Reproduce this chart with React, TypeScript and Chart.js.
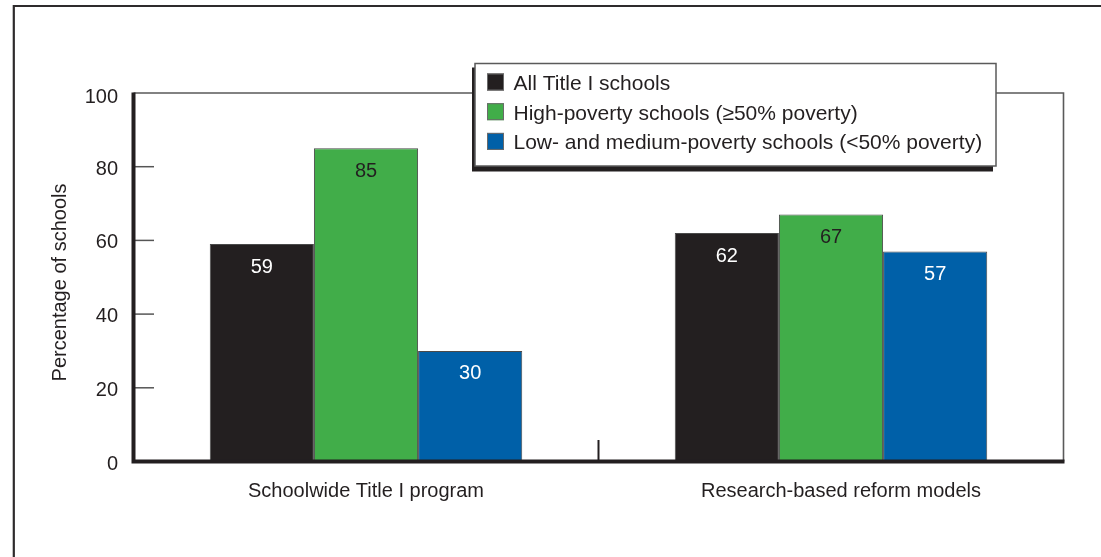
import React, { useEffect, useRef } from "react";
import { Chart, registerables } from "chart.js";

Chart.register(...registerables);

const categories = ["Schoolwide Title I program", "Research-based reform models"];
const seriesNames = [
  "All Title I schools",
  "High-poverty schools (≥50% poverty)",
  "Low- and medium-poverty schools (<50% poverty)",
];
const allTitleI = [59, 62];
const highPoverty = [85, 67];
const lowMediumPoverty = [30, 57];
const yTicks = [0, 20, 40, 60, 80, 100];
const yTitle = "Percentage of schools";

const seriesColors = ["#231f20", "#41ad49", "#0060a8"];
const labelColors = ["#ffffff", "#231f20", "#ffffff"];
const FONT = '"Liberation Sans", Arial, sans-serif';
const DARK = "#231f20";

const customDraw = {
  id: "customDraw",
  beforeDraw(chart: any) {
    const ctx = chart.ctx;
    ctx.save();
    ctx.fillStyle = "#ffffff";
    ctx.fillRect(0, 0, chart.width, chart.height);
    // outer frame (top and left)
    ctx.strokeStyle = "#2e2b2c";
    ctx.lineWidth = 2.2;
    ctx.beginPath();
    ctx.moveTo(13.8, chart.height);
    ctx.lineTo(13.8, 6);
    ctx.lineTo(chart.width, 6);
    ctx.stroke();
    ctx.restore();
  },
  afterDatasetsDraw(chart: any) {
    const ctx = chart.ctx;
    const area = chart.chartArea;
    const xs = chart.scales.x;
    const ys = chart.scales.y;
    ctx.save();

    // top and right plot border (thin gray)
    ctx.strokeStyle = "#5a5a5a";
    ctx.lineWidth = 1.6;
    ctx.beginPath();
    ctx.moveTo(area.left, area.top);
    ctx.lineTo(area.right, area.top);
    ctx.lineTo(area.right, area.bottom);
    ctx.stroke();

    // y ticks (inward)
    ctx.strokeStyle = "#555555";
    ctx.lineWidth = 1.5;
    yTicks.forEach((t) => {
      if (t === 0 || t === 100) return;
      const y = ys.getPixelForValue(t);
      ctx.beginPath();
      ctx.moveTo(area.left, y);
      ctx.lineTo(area.left + 20.5, y);
      ctx.stroke();
    });

    // category separator tick
    const sepX = (xs.getPixelForValue(0) + xs.getPixelForValue(1)) / 2;
    ctx.strokeStyle = DARK;
    ctx.lineWidth = 2;
    ctx.beginPath();
    ctx.moveTo(sepX, area.bottom - 21.5);
    ctx.lineTo(sepX, area.bottom);
    ctx.stroke();

    // left and bottom axis lines (thick dark)
    ctx.strokeStyle = DARK;
    ctx.lineWidth = 4;
    ctx.beginPath();
    ctx.moveTo(area.left, area.top - 0.5);
    ctx.lineTo(area.left, area.bottom);
    ctx.lineTo(area.right + 1, area.bottom);
    ctx.stroke();

    // y tick labels
    ctx.fillStyle = DARK;
    ctx.font = `20px ${FONT}`;
    ctx.textAlign = "right";
    ctx.textBaseline = "alphabetic";
    yTicks.forEach((t) => {
      const y = ys.getPixelForValue(t);
      ctx.fillText(String(t), 118, y + 8 + (t === 100 ? 2 : 0));
    });

    // y title
    ctx.save();
    ctx.translate(66, 282.5);
    ctx.rotate(-Math.PI / 2);
    ctx.textAlign = "center";
    ctx.fillText(yTitle, 0, 0);
    ctx.restore();

    // x category labels
    const labelShift = [0, 10];
    ctx.textAlign = "center";
    categories.forEach((c, i) => {
      ctx.fillText(c, xs.getPixelForValue(i) + labelShift[i], 496.5);
    });

    // value labels inside bars
    chart.data.datasets.forEach((ds: any, di: number) => {
      const meta = chart.getDatasetMeta(di);
      meta.data.forEach((bar: any, j: number) => {
        ctx.fillStyle = labelColors[di];
        ctx.fillText(String(ds.data[j]), bar.x, bar.y + 28.5);
      });
    });

    // legend box with shadow
    const bx = 475, by = 63.5, bw = 521, bh = 102.5;
    ctx.fillStyle = DARK;
    ctx.fillRect(bx - 3, by + 4, bw, bh + 1.5);
    ctx.fillStyle = "#ffffff";
    ctx.fillRect(bx, by, bw, bh);
    ctx.strokeStyle = "#5a5a5a";
    ctx.lineWidth = 1.5;
    ctx.strokeRect(bx, by, bw, bh);

    ctx.font = `21px ${FONT}`;
    ctx.textAlign = "left";
    chart.data.datasets.forEach((ds: any, di: number) => {
      const cy = 82 + di * 29.7;
      ctx.fillStyle = ds.backgroundColor;
      ctx.fillRect(487, cy - 8.5, 17, 17);
      ctx.strokeStyle = "#6a6a6a";
      ctx.lineWidth = 1;
      ctx.strokeRect(487.5, cy - 8, 16, 16);
      ctx.fillStyle = DARK;
      ctx.fillText(ds.label, 513.5, cy + 7.8);
    });

    ctx.restore();
  },
};

export default function App() {
  const canvasRef = useRef<HTMLCanvasElement | null>(null);

  useEffect(() => {
    const canvas = canvasRef.current;
    if (!canvas) return;
    const seriesData = [allTitleI, highPoverty, lowMediumPoverty];
    const chart = new Chart(canvas, {
      type: "bar",
      data: {
        labels: categories,
        datasets: seriesNames.map((name, i) => ({
          label: name,
          data: seriesData[i],
          backgroundColor: seriesColors[i],
          borderColor: "#4a4a4a",
          borderWidth: 1,
          barPercentage: 1,
          categoryPercentage: 0.672,
        })),
      },
      options: {
        responsive: false,
        animation: false,
        devicePixelRatio: 1,
        layout: { padding: { left: 133.5, right: 37.5, top: 93, bottom: 95.5 } },
        scales: {
          x: { type: "category", display: false, offset: true },
          y: { type: "linear", display: false, min: 0, max: 100 },
        },
        plugins: {
          legend: { display: false },
          tooltip: { enabled: false },
          title: { display: false },
        },
        events: [],
      },
      plugins: [customDraw],
    } as any);
    return () => chart.destroy();
  }, []);

  return (
    <div style={{ position: "absolute", left: 0, top: 0, width: 1101, height: 557, background: "#fff" }}>
      <canvas ref={canvasRef} width={1101} height={557} style={{ display: "block" }} />
    </div>
  );
}
